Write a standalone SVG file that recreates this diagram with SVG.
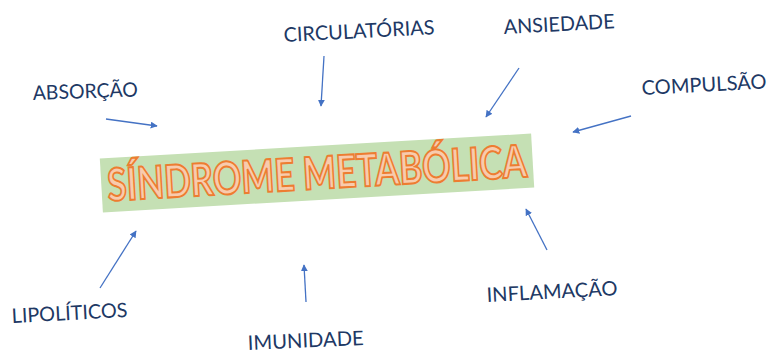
<svg xmlns="http://www.w3.org/2000/svg" width="770" height="353" viewBox="0 0 770 353">
<style>
.lbl{font-family:Lato,"Open Sans","Liberation Sans",sans-serif;font-size:20px;fill:#203864}
.title{font-family:Lato,"Open Sans","Liberation Sans",sans-serif;font-size:45px;font-weight:bold;fill:#F8CBAD;stroke:#ED7D31;stroke-width:2}
.arr{stroke:#4472C4;stroke-width:1.3;fill:none;marker-end:url(#ah)}
</style>
<defs>
<marker id="ah" viewBox="0 0 10 10" refX="9" refY="5" markerWidth="7" markerHeight="7" markerUnits="userSpaceOnUse" orient="auto">
<path d="M0,0 L10,5 L0,10 z" fill="#4472C4"/>
</marker>
</defs>
<rect width="770" height="353" fill="#FFFFFF"/>
<g id="center">
<g transform="rotate(-3.3 317 173)">
<rect x="101" y="146" width="432" height="54" fill="#C5E0B4"/>
<text class="title" x="317" y="189" text-anchor="middle" textLength="420" lengthAdjust="spacingAndGlyphs">SÍNDROME METABÓLICA</text>
</g>
</g>
<g id="absorcao"><text class="lbl" x="33" y="100" transform="rotate(-2 33 100)" textLength="105" lengthAdjust="spacingAndGlyphs">ABSORÇÃO</text></g>
<g id="circulatorias"><text class="lbl" x="284" y="42" transform="rotate(-3 284 42)" textLength="151" lengthAdjust="spacingAndGlyphs">CIRCULATÓRIAS</text></g>
<g id="ansiedade"><text class="lbl" x="504" y="34" transform="rotate(-3 504 34)" textLength="111" lengthAdjust="spacingAndGlyphs">ANSIEDADE</text></g>
<g id="compulsao"><text class="lbl" x="642" y="95" transform="rotate(-3 642 95)" textLength="125" lengthAdjust="spacingAndGlyphs">COMPULSÃO</text></g>
<g id="lipoliticos"><text class="lbl" x="12" y="323" transform="rotate(-3 12 323)" textLength="116" lengthAdjust="spacingAndGlyphs">LIPOLÍTICOS</text></g>
<g id="imunidade"><text class="lbl" x="248" y="350" transform="rotate(-2.5 248 350)" textLength="116" lengthAdjust="spacingAndGlyphs">IMUNIDADE</text></g>
<g id="inflamacao"><text class="lbl" x="487" y="302" transform="rotate(-3 487 302)" textLength="131" lengthAdjust="spacingAndGlyphs">INFLAMAÇÃO</text></g>
<g id="connectors">
<line class="arr" x1="106" y1="119" x2="157" y2="126"/>
<line class="arr" x1="324" y1="56" x2="321" y2="106"/>
<line class="arr" x1="519" y1="68" x2="486" y2="117"/>
<line class="arr" x1="631" y1="116" x2="573" y2="132"/>
<line class="arr" x1="100" y1="288" x2="136" y2="231"/>
<line class="arr" x1="306" y1="302" x2="304" y2="265"/>
<line class="arr" x1="547" y1="250" x2="526" y2="209"/>
</g>
</svg>
